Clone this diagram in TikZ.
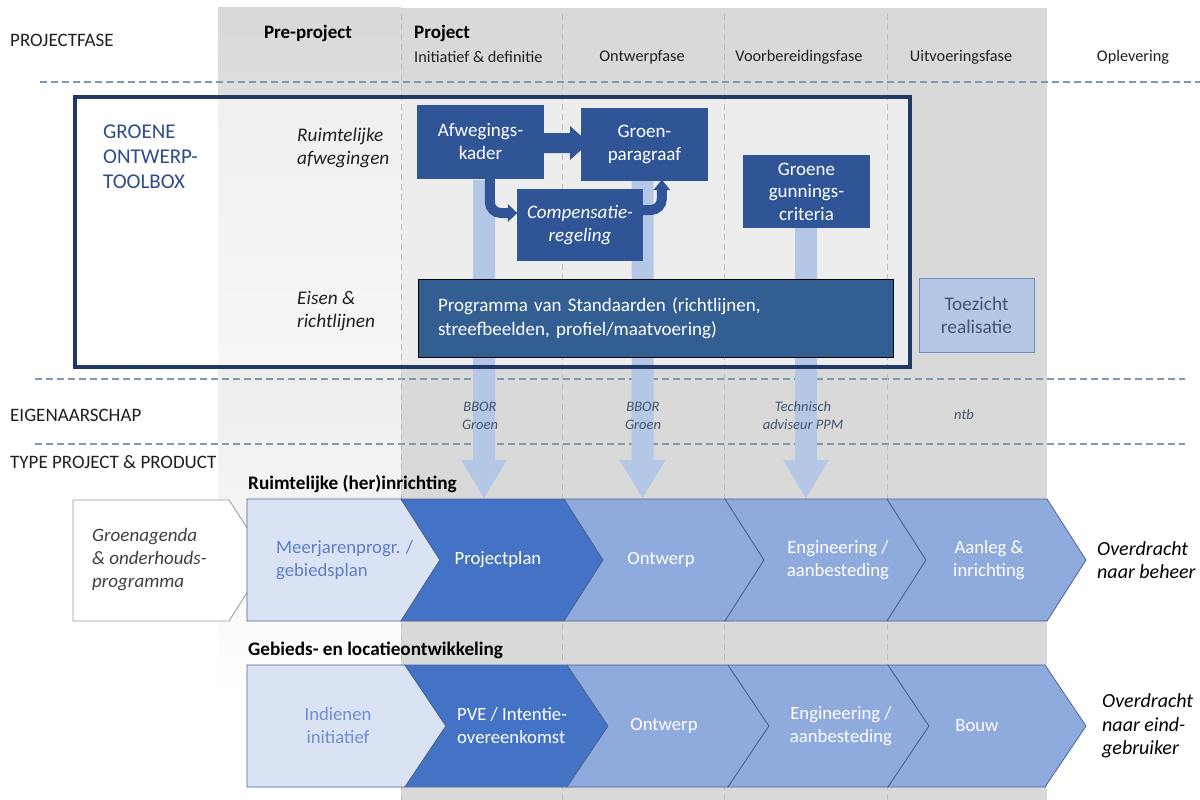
\documentclass[tikz,border=0pt]{standalone}
\usepackage{fontspec}
\setmainfont{Carlito}
\usetikzlibrary{calc}
\definecolor{bgray}{HTML}{D9D9D9}
\definecolor{midgray}{HTML}{E3E3E3}
\definecolor{navy}{HTML}{1F3864}
\definecolor{tbtext}{HTML}{2F4B8A}
\definecolor{boxblue}{HTML}{2F5597}
\definecolor{progblue}{HTML}{335E92}
\definecolor{lightarr}{HTML}{B4C7E7}
\definecolor{chlight}{HTML}{DAE3F3}
\definecolor{chdark}{HTML}{4472C4}
\definecolor{chmid}{HTML}{8FAADC}
\definecolor{chline}{HTML}{4A6491}
\definecolor{dashc}{HTML}{8497B0}
\definecolor{vdashc}{HTML}{BDBDBD}
\definecolor{labc}{HTML}{44546A}
\definecolor{txtdark}{HTML}{202020}
\definecolor{c1text}{HTML}{5B7FC7}
\definecolor{d1text}{HTML}{6F8FCF}
\definecolor{tzborder}{HTML}{6D8EBF}
\newcommand\bigarrow[3]{%
  \fill[lightarr] ({#1-11},#2) -- ({#1+11},#2) -- ({#1+11},{#3-38}) -- ({#1+23},{#3-38}) -- (#1,#3) -- ({#1-23},{#3-38}) -- ({#1-11},{#3-38}) -- cycle;}
\begin{document}
\begin{tikzpicture}[x=1pt,y=-1pt,
  lbl/.style={font=\fontsize{19}{22}\selectfont, text=txtdark, inner sep=0pt, anchor=west},
  hdr/.style={font=\fontsize{16.3}{19}\selectfont, text=txtdark, inner sep=0pt},
  hdrb/.style={font=\bfseries\fontsize{19}{22}\selectfont, text=black, inner sep=0pt},
  tbox/.style={fill=boxblue, text=white, align=center, inner sep=0pt, font=\fontsize{19}{23}\selectfont},
  side/.style={font=\itshape\fontsize{19.3}{23}\selectfont, text=txtdark, align=left, inner sep=0pt, anchor=west},
  own/.style={font=\itshape\fontsize{14.5}{18}\selectfont, text=labc, align=center, inner sep=0pt},
  chtxt/.style={font=\fontsize{18.7}{23}\selectfont, align=center, inner sep=0pt},
  chshape/.style={draw=chline, line width=0.8pt},
  outtxt/.style={font=\itshape\fontsize{20}{23.5}\selectfont, text=black, align=left, inner sep=0pt, anchor=west},
  hdash/.style={draw=dashc, line width=1.2pt, dash pattern=on 7pt off 4pt},
  vdash/.style={draw=vdashc, line width=0.9pt, dash pattern=on 6pt off 4pt},
  rowtitle/.style={font=\bfseries\fontsize{19.2}{22}\selectfont, text=black, inner sep=0pt, anchor=west}]
\useasboundingbox (0,0) rectangle (1200,800);
\fill[white] (0,0) rectangle (1200,800);
% backgrounds
\shade[top color=bgray, middle color=midgray, bottom color=white] (218,8) rectangle (401,700);
\fill[bgray] (401,8) rectangle (1047,800);
\fill[white, opacity=0.55] (75,97) rectangle (910,367);
% dashed grid
\draw[hdash] (40,82) -- (1200,82);
\draw[hdash] (35,379) -- (1185,379);
\draw[hdash] (35,444) -- (1185,444);
\foreach \xx in {401,562,724,887} \draw[vdash] (\xx,14) -- (\xx,800);
% light vertical arrows
\bigarrow{484}{180}{498}
\bigarrow{642.5}{181}{498}
\bigarrow{806}{228}{498}
% toolbox boxes
\node[tbox, minimum width=127pt, minimum height=74pt] (afw) at (480.5,142) {Afwegings-\\kader};
\node[tbox, minimum width=127pt, minimum height=73pt] (groen) at (644.5,144.5) {Groen-\\paragraaf};
\node[tbox, minimum width=126pt, minimum height=72pt, font=\itshape\fontsize{19}{23}\selectfont] (comp) at (580,225) {Compensatie-\\regeling};
\node[tbox, minimum width=127pt, minimum height=73pt, font=\fontsize{19}{22.5}\selectfont] (gun) at (806.5,191.5) {Groene\\gunnings-\\criteria};
\node[fill=progblue, draw=black, line width=1pt, text=white, minimum width=475pt, minimum height=78pt, text width=435pt, inner xsep=20pt, inner ysep=0pt, align=left, font=\fontsize{19}{24.5}\selectfont] (pvs) at (655.5,318) {Programma van Standaarden (richtlijnen,\\streefbeelden, profiel/maatvoering)};
\node[fill=lightarr, draw=tzborder, line width=1pt, text=labc, minimum width=115pt, minimum height=74pt, inner sep=0pt, align=center, font=\fontsize{19.3}{23}\selectfont] (tz) at (976.5,315) {Toezicht\\realisatie};
% arrows between boxes
\coordinate (a1) at (544,133);
\fill[boxblue] (a1) -- ++(26,0) -- ++(0,-7) -- ++(19,17) -- ++(-19,17) -- ++(0,-7) -- ++(-26,0) -- cycle;
\coordinate (b1) at ($(afw.south west)+(73,-1)$);
\coordinate (b2) at ($(comp.west)+(-8,-12)$);
\draw[boxblue, line width=10pt, rounded corners=11pt] (b1) |- (b2);
\fill[boxblue] ($(b2)+(-1,-9)$) -- ($(comp.west)+(0.5,-12)$) -- ($(b2)+(-1,9)$) -- cycle;
\coordinate (c1) at ($(comp.east)+(-1,-15)$);
\coordinate (c2) at ($(groen.south west)+(81,8)$);
\draw[boxblue, line width=10pt, rounded corners=11pt] (c1) -| (c2);
\fill[boxblue] ($(c2)+(-8.5,1)$) -- ($(groen.south west)+(81,-1.5)$) -- ($(c2)+(8.5,1)$) -- cycle;
% toolbox border
\draw[navy, line width=4pt] (75,97) rectangle (910,367);
% toolbox texts
\node[anchor=west, align=left, inner sep=0pt, text=tbtext, font=\fontsize{21}{25}\selectfont] (tbx) at (103,157) {GROENE\\ONTWERP-\\TOOLBOX};
\node[side] (ruim) at (297,147.5) {Ruimtelijke\\afwegingen};
\node[side] (eisen) at (297,311) {Eisen \&\\richtlijnen};
% left labels
\node[lbl] (pf) at (10,40) {PROJECTFASE};
\node[lbl] (eig) at (10,415) {EIGENAARSCHAP};
\node[lbl] (tpp) at (10,462) {TYPE PROJECT \& PRODUCT};
% header
\node[hdrb] (pre) at (308,33) {Pre-project};
\node[hdrb, anchor=west] (proj) at (414,33) {Project};
\node[hdr, anchor=west] (ini) at (414,57) {Initiatief \& definitie};
\node[hdr] (ontf) at (642,57) {Ontwerpfase};
\node[hdr] (voorb) at (799,57) {Voorbereidingsfase};
\node[hdr] (uitv) at (961,57) {Uitvoeringsfase};
\node[hdr] (opl) at (1133,57) {Oplevering};
% ownership
\node[own] (o1) at (480,416) {BBOR\\Groen};
\node[own] (o2) at (643,416) {BBOR\\Groen};
\node[own] (o3) at (803,416) {Technisch\\adviseur PPM};
\node[own] (o4) at (964,415) {ntb};
% row 1
\node[rowtitle] (r1) at (248,484) {Ruimtelijke (her)inrichting};
\draw[draw=gray!80, line width=0.8pt, fill=white] (73,500) -- (229,500) -- (268,560) -- (229,621) -- (73,621) -- cycle;
\node[anchor=west, align=left, inner sep=0pt, text=black!75, font=\itshape\fontsize{19}{23}\selectfont] (ga) at (92,560) {Groenagenda\\\& onderhouds-\\programma};
\draw[chshape, fill=chlight] (247,499) -- (401,499) -- (440,560) -- (401,621) -- (247,621) -- cycle;
\draw[chshape, fill=chdark] (401,499) -- (564,499) -- (603,560) -- (564,621) -- (401,621) -- (440,560) -- cycle;
\draw[chshape, fill=chmid] (564,499) -- (725,499) -- (764,560) -- (725,621) -- (564,621) -- (603,560) -- cycle;
\draw[chshape, fill=chmid] (725,499) -- (887,499) -- (926,560) -- (887,621) -- (725,621) -- (764,560) -- cycle;
\draw[chshape, fill=chmid] (887,499) -- (1047,499) -- (1086,560) -- (1047,621) -- (887,621) -- (926,560) -- cycle;
\node[chtxt, anchor=west, align=left, text=c1text] (m1) at (276,560) {Meerjarenprogr. /\\gebiedsplan};
\node[chtxt, text=white] (m2) at (498,560) {Projectplan};
\node[chtxt, text=white] (m3) at (661,560) {Ontwerp};
\node[chtxt, text=white] (m4) at (838,560) {Engineering /\\aanbesteding};
\node[chtxt, text=white] (m5) at (989,560) {Aanleg \&\\inrichting};
\node[outtxt] (ov1) at (1097,560) {Overdracht\\naar beheer};
% row 2
\node[rowtitle] (r2) at (248,650) {Gebieds- en locatieontwikkeling};
\draw[chshape, fill=chlight] (247,665) -- (405,665) -- (446,726) -- (405,787) -- (247,787) -- cycle;
\draw[chshape, fill=chdark] (405,665) -- (567,665) -- (608,726) -- (567,787) -- (405,787) -- (446,726) -- cycle;
\draw[chshape, fill=chmid] (567,665) -- (728,665) -- (769,726) -- (728,787) -- (567,787) -- (608,726) -- cycle;
\draw[chshape, fill=chmid] (728,665) -- (888,665) -- (929,726) -- (888,787) -- (728,787) -- (769,726) -- cycle;
\draw[chshape, fill=chmid] (888,665) -- (1045,665) -- (1086,726) -- (1045,787) -- (888,787) -- (929,726) -- cycle;
\node[chtxt, text=d1text] (n1) at (338,726) {Indienen\\initiatief};
\node[chtxt, anchor=west, align=left, text=white] (n2) at (457,726) {PVE / Intentie-\\overeenkomst};
\node[chtxt, text=white] (n3) at (664,726) {Ontwerp};
\node[chtxt, text=white] (n4) at (841,726) {Engineering /\\aanbesteding};
\node[chtxt, text=white] (n5) at (977,726) {Bouw};
\node[outtxt] (ov2) at (1102,726) {Overdracht\\naar eind-\\gebruiker};
\end{tikzpicture}
\end{document}
